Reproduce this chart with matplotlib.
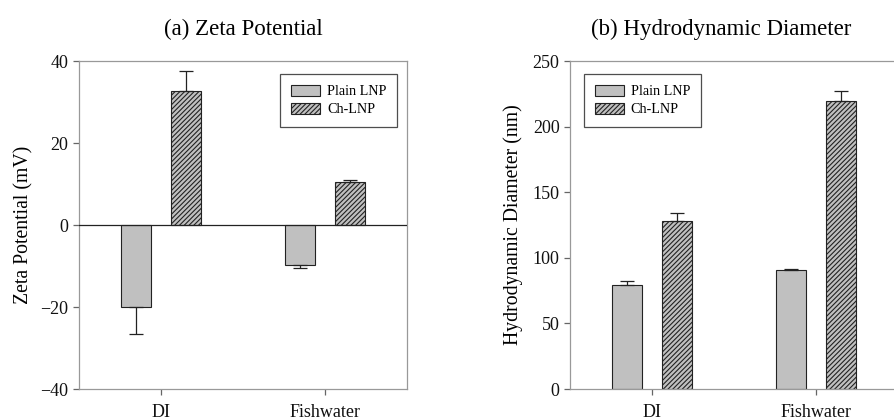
import matplotlib
matplotlib.use("Agg")
import matplotlib.pyplot as plt
import numpy as np

plt.rcParams['font.family'] = ['Liberation Serif', 'DejaVu Serif']
plt.rcParams['hatch.color'] = '#3a3a3a'
plt.rcParams['hatch.linewidth'] = 0.8

categories = ["DI", "Fishwater"]
series = ["Plain LNP", "Ch-LNP"]
zeta_plain = [-20.0, -9.8]
zeta_plain_err = [6.6, 0.7]
zeta_ch = [32.6, 10.6]
zeta_ch_err = [4.9, 0.4]
diam_plain = [79.0, 90.7]
diam_plain_err = [3.3, 1.0]
diam_ch = [128.3, 219.5]
diam_ch_err = [6.1, 7.4]

fig = plt.figure(figsize=(8.94, 4.2), dpi=100)
W, H = 894, 420
ax1 = fig.add_axes([79 / W, 1 - 389 / H, 328 / W, 328 / H])
ax2 = fig.add_axes([570 / W, 1 - 389 / H, 328 / W, 328 / H])

x = np.arange(len(categories))
bw = 0.183
off = 0.15
face = '#c0c0c0'
edge = '#222222'
spine_c = '#999999'


def draw(ax, plain, perr, ch, cerr):
    ax.bar(x - off, plain, bw, color=face, edgecolor=edge, linewidth=0.8,
           label=series[0], zorder=2)
    ax.bar(x + off, ch, bw, color=face, edgecolor=edge, linewidth=0.8,
           hatch='///////', label=series[1], zorder=2)
    for xs, vals, errs in ((x - off, plain, perr), (x + off, ch, cerr)):
        for xi, v, e in zip(xs, vals, errs):
            lo = [e] if v < 0 else [0]
            hi = [e] if v >= 0 else [0]
            ax.errorbar([xi], [v], yerr=[lo, hi], fmt='none', ecolor='#222222',
                        elinewidth=0.9, capsize=5, capthick=0.9, zorder=3)
    ax.set_xlim(-0.5, 1.5)
    ax.set_xticks(x)
    ax.set_xticklabels(categories, fontsize=13)
    for s in ax.spines.values():
        s.set_color(spine_c)
        s.set_linewidth(0.9)
    ax.tick_params(axis='both', colors='#666666', labelcolor='#111111',
                   labelsize=13, length=4, width=0.9)
    ax.tick_params(axis='x', pad=7)


def legend(ax, loc, anchor):
    leg = ax.legend(loc=loc, bbox_to_anchor=anchor, fontsize=10.2,
                    frameon=True, fancybox=False, edgecolor='#222222',
                    handlelength=2.05, handleheight=0.8, borderpad=0.75,
                    labelspacing=0.35, handletextpad=0.5, borderaxespad=0)
    leg.get_frame().set_linewidth(0.9)
    return leg


draw(ax1, zeta_plain, zeta_plain_err, zeta_ch, zeta_ch_err)
ax1.set_ylim(-40, 40)
ax1.set_yticks([-40, -20, 0, 20, 40])
ax1.set_yticklabels(['\u221240', '\u221220', '0', '20', '40'])
ax1.axhline(0, color='#222222', linewidth=0.9, zorder=4)
ax1.set_ylabel('Zeta Potential (mV)', fontsize=14.2, labelpad=5)
ax1.set_title('(a) Zeta Potential', fontsize=16.5, pad=19)
legend(ax1, 'upper right', (0.970, 0.960))

draw(ax2, diam_plain, diam_plain_err, diam_ch, diam_ch_err)
ax2.set_ylim(0, 250)
ax2.set_yticks([0, 50, 100, 150, 200, 250])
ax2.set_ylabel('Hydrodynamic Diameter (nm)', fontsize=14.2, labelpad=7)
ax2.set_title('(b) Hydrodynamic Diameter', fontsize=16.5, pad=19, x=0.46)
legend(ax2, 'upper left', (0.043, 0.960))

fig.savefig('out.png', dpi=100)
